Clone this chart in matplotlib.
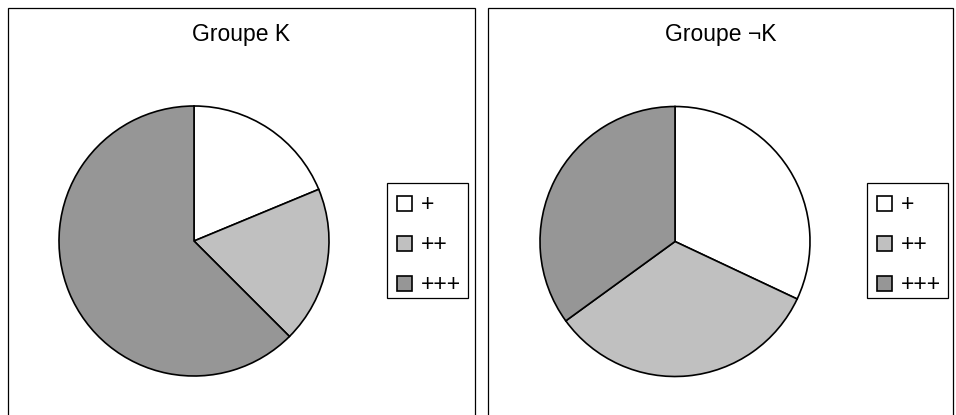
import matplotlib.pyplot as plt
from matplotlib.patches import Rectangle

plt.rcParams['font.family'] = ['Liberation Sans', 'DejaVu Sans']

labels = ['+', '++', '+++']
colors = ['#FFFFFF', '#C0C0C0', '#969696']
titles = ['Groupe K', 'Groupe ¬K']
groupe_k = [3, 3, 10]
groupe_non_k = [32, 33, 35]

W, H = 956, 415
fig = plt.figure(figsize=(W / 100, H / 100), dpi=100)

# panel frames (left, right in px), bottom runs off the picture
panels = [(8, 474.5), (488, 953)]
pie_centres = [(194, 241), (675, 241.5)]
legend_box = [(387, 183, 468, 298), (867, 183, 948, 298)]
R = 135

for data, title, (x0, x1), (cx, cy), (lx0, ly0, lx1, ly1) in zip(
        [groupe_k, groupe_non_k], titles, panels, pie_centres, legend_box):
    fig.add_artist(Rectangle((x0 / W, -0.1), (x1 - x0) / W, 1.1 - 8 / H,
                             transform=fig.transFigure, fill=False,
                             edgecolor='black', linewidth=0.9))
    fig.text((x0 + x1) / 2 / W, 1 - 35 / H, title, ha='center', va='center',
             fontsize=16.5)

    s = R * 2 * 1.02
    ax = fig.add_axes([(cx - s / 2) / W, (H - cy - s / 2) / H, s / W, s / H])
    wedges, _ = ax.pie(data, colors=colors, startangle=90, counterclock=False,
                       wedgeprops=dict(edgecolor='black', linewidth=1.2))
    ax.set_xlim(-1.02, 1.02)
    ax.set_ylim(-1.02, 1.02)
    ax.set_aspect('equal')
    ax.axis('off')

    # legend frame drawn separately so its size matches the original
    fig.add_artist(Rectangle((lx0 / W, 1 - ly1 / H), (lx1 - lx0) / W,
                             (ly1 - ly0) / H, transform=fig.transFigure,
                             fill=False, edgecolor='black', linewidth=0.9))
    leg = ax.legend(wedges, labels, loc='upper left',
                    bbox_to_anchor=(lx0 / W, 1 - ly0 / H),
                    bbox_transform=fig.transFigure, borderaxespad=0,
                    fontsize=16.5, frameon=False,
                    handlelength=0.65, handleheight=0.65,
                    handletextpad=0.4, borderpad=0.45, labelspacing=0.74)
    for h in leg.legend_handles:
        h.set_linewidth(1.2)

fig.savefig('out.png', dpi=100)
